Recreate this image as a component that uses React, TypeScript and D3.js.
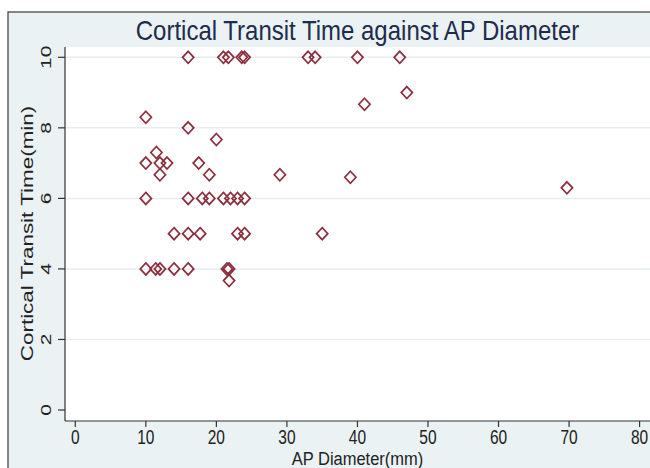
import React from "react";
import * as d3 from "d3";

const apDiameter = [
  16, 21, 21.7, 23.6, 24, 33, 34, 40, 46,
  47, 41, 10, 16, 20, 11.5,
  10, 12, 13, 17.5, 12, 19, 29, 39, 69.7,
  10, 16, 18, 19, 21, 22, 23, 24,
  14, 16, 17.7, 23, 24, 35,
  10, 11.4, 12, 14, 16, 21.5, 21.8,
  21.8,
];
const transitTime = [
  10, 10, 10, 10, 10, 10, 10, 10, 10,
  9, 8.67, 8.3, 8, 7.67, 7.3,
  7, 7, 7, 7, 6.67, 6.67, 6.67, 6.6, 6.3,
  6, 6, 6, 6, 6, 6, 6, 6,
  5, 5, 5, 5, 5, 5,
  4, 4, 4, 4, 4, 4, 4,
  3.67,
];
const xTicks = [0, 10, 20, 30, 40, 50, 60, 70, 80];
const yTicks = [0, 2, 4, 6, 8, 10];

const W = 650;
const H = 468;

export default function App() {
  const x = d3.scaleLinear().domain([0, 80]).range([75.3, 639.6]);
  const y = d3.scaleLinear().domain([0, 10]).range([410, 57.3]);
  const plotLeft = 65;
  const plotTop = 47;
  const plotBottom = 421;
  const frameX = 8;
  const frameY = 12;
  const font = "'Liberation Sans', Arial, sans-serif";
  const rx = 5.6;
  const ry = 6;
  const stretch = 1.3;
  const diamond = (cx: number, cy: number) =>
    `M${cx},${cy - ry}L${cx + rx},${cy}L${cx},${cy + ry}L${cx - rx},${cy}Z`;

  return (
    <svg
      width={W}
      height={H}
      style={{ position: "absolute", left: 0, top: 0 }}
      fontFamily={font}
    >
      <rect x={0} y={0} width={W} height={H} fill="#ffffff" />
      <rect
        x={frameX}
        y={frameY}
        width={W + 10}
        height={H + 10}
        fill="#eaf2f4"
        stroke="#3a3a3a"
        strokeWidth={1.2}
      />
      <text
        transform={`translate(357.5,39.5) scale(1,1.12)`}
        textAnchor="middle"
        fontSize={24}
        fill="#1e2c4c"
      >
        Cortical Transit Time against AP Diameter
      </text>
      <rect
        x={plotLeft}
        y={plotTop}
        width={W - plotLeft + 5}
        height={plotBottom - plotTop}
        fill="#ffffff"
      />
      {yTicks
        .filter((t) => t > 0)
        .map((t) => (
          <line
            key={"g" + t}
            x1={plotLeft}
            x2={W}
            y1={y(t)}
            y2={y(t)}
            stroke="#e6eef1"
            strokeWidth={1.5}
          />
        ))}
      <line x1={plotLeft} x2={plotLeft} y1={plotTop} y2={plotBottom} stroke="#333" strokeWidth={1.2} />
      <line x1={plotLeft} x2={W} y1={plotBottom} y2={plotBottom} stroke="#333" strokeWidth={1.2} />
      {xTicks.map((t) => (
        <g key={"x" + t}>
          <line x1={x(t)} x2={x(t)} y1={plotBottom} y2={plotBottom + 6} stroke="#333" strokeWidth={1.2} />
          <text
            transform={`translate(${x(t)},443.5) scale(1,${stretch})`}
            textAnchor="middle"
            fontSize={15.5}
            fill="#222"
          >
            {t}
          </text>
        </g>
      ))}
      {yTicks.map((t) => (
        <g key={"y" + t}>
          <line x1={plotLeft - 7} x2={plotLeft} y1={y(t)} y2={y(t)} stroke="#333" strokeWidth={1.2} />
          <text
            transform={`translate(50.5,${y(t)}) rotate(-90) scale(1.35,1)`}
            textAnchor="middle"
            fontSize={15.5}
            fill="#222"
          >
            {t}
          </text>
        </g>
      ))}
      <text
        transform={`translate(357.5,464.5) scale(1,1.1)`}
        textAnchor="middle"
        fontSize={16.5}
        fill="#222"
      >
        AP Diameter(mm)
      </text>
      <text
        transform={`translate(33,233.5) rotate(-90) scale(1.36,1)`}
        textAnchor="middle"
        fontSize={16.5}
        fill="#222"
      >
        Cortical Transit Time(min)
      </text>
      {apDiameter.map((d, i) => (
        <path
          key={"p" + i}
          d={diamond(x(d), y(transitTime[i]))}
          fill="none"
          stroke="#8b2f3c"
          strokeWidth={1.7}
        />
      ))}
    </svg>
  );
}
